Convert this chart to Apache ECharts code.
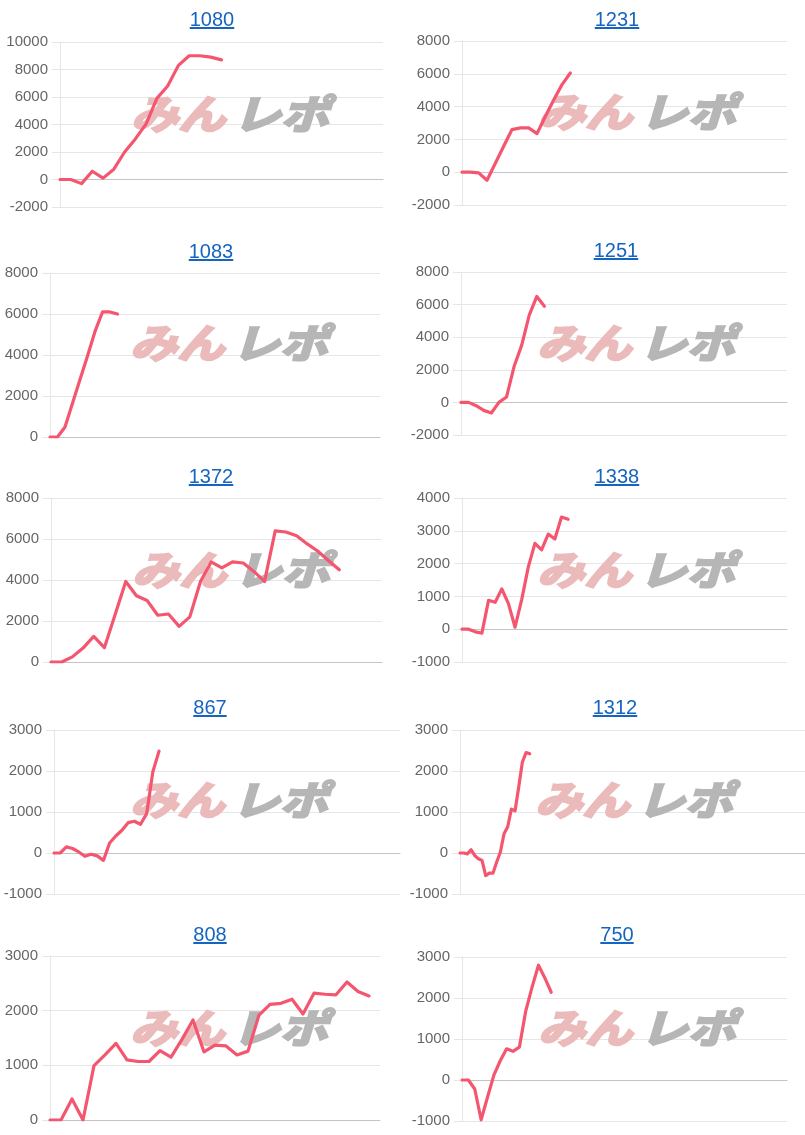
<!DOCTYPE html>
<html>
<head>
<meta charset="utf-8">
<script src="https://cdn.jsdelivr.net/npm/echarts/dist/echarts.min.js"></script>
<style>
  html, body { margin: 0; padding: 0; background: #fff; }
  #wrap { position: relative; width: 805px; height: 1135px; }
  #chart { position: absolute; left: 0; top: 0; width: 805px; height: 1135px; }
  .ttl { position: absolute; transform: translate(-50%, -50%); font-family: "Liberation Sans", Arial, sans-serif;
         font-size: 20px; color: #1565c0; text-decoration: underline; white-space: nowrap; line-height: 1; }
</style>
</head>
<body>
<div id="wrap"><div id="chart"></div></div>
<script>
// ---- data ----
const titles = ['1080', '1231', '1083', '1251', '1372', '1338', '867', '1312', '808', '750'];

const d1080 = [0, 0, -300, 600, 100, 750, 2000, 2950, 4050, 5900, 6800, 8300, 9000, 9000, 8900, 8700];
const d1231 = [0, 0, -40, -490, 550, 1580, 2600, 2700, 2700, 2350, 3400, 4400, 5340, 6050];
const d1083 = [0, 0, 490, 1650, 2800, 3950, 5150, 6100, 6100, 6000];
const d1251 = [0, 0, -200, -490, -650, 0, 330, 2200, 3500, 5350, 6500, 5900];
const d1372 = [0, 0, 250, 680, 1250, 700, 2300, 3930, 3230, 3000, 2280, 2340, 1740, 2200, 3930, 4880, 4590, 4880, 4830, 4420, 3930, 6400, 6340, 6160, 5760, 5400, 4940, 4500];
const d1338 = [0, 0, -80, -120, 880, 820, 1230, 780, 60, 900, 1900, 2620, 2420, 2900, 2750, 3420, 3350];
const d867  = [0, 0, 150, 110, 25, -80, -30, -70, -180, 245, 415, 555, 740, 775, 700, 960, 1980, 2485];
const d1312 = [0, 0, -20, 80, -60, -140, -180, -550, -490, -490, -220, 25, 470, 640, 1070, 1030, 1610, 2220, 2450, 2420];
const d808  = [0, 0, 385, 0, 995, 1190, 1400, 1100, 1070, 1070, 1270, 1150, 1475, 1830, 1245, 1370, 1355, 1190, 1260, 1920, 2115, 2135, 2210, 1940, 2320, 2300, 2290, 2525, 2350, 2270];
const d750  = [0, 0, -220, -970, -420, 120, 470, 760, 700, 800, 1680, 2270, 2800, 2490, 2140];

const seriesValues = [d1080, d1231, d1083, d1251, d1372, d1338, d867, d1312, d808, d750];
const slotCounts = [31, 40, 45, 44, 32, 50, 57, 95, 31, 52];

const yMins  = [-2000, -2000, 0, -2000, 0, -1000, -1000, -1000, 0, -1000];
const yMaxs  = [10000, 8000, 8000, 8000, 8000, 4000, 3000, 3000, 3000, 3000];
const ySteps = [2000, 2000, 2000, 2000, 2000, 1000, 1000, 1000, 1000, 1000];

const markLeft = 'みん';
const markRight = 'レポ';

// ---- layout ----
const gridBoxes = [
  { left: 60,  top: 42,  width: 323, height: 165 },
  { left: 462, top: 41,  width: 325, height: 164 },
  { left: 50,  top: 273, width: 330, height: 164 },
  { left: 461, top: 272, width: 326, height: 163 },
  { left: 51,  top: 498, width: 331, height: 164 },
  { left: 462, top: 498, width: 325, height: 164 },
  { left: 54,  top: 730, width: 346, height: 164 },
  { left: 460, top: 730, width: 345, height: 164 },
  { left: 50,  top: 956, width: 330, height: 164 },
  { left: 462, top: 957, width: 325, height: 164 }
];
const titlePos = [[212, 19], [617, 19], [211, 251], [616, 250], [211, 476], [617, 476], [210, 707], [615, 707], [210, 934], [617, 934]];
const markPos = [[131, 114], [538, 112], [130, 343], [537, 343], [132, 570], [537, 570], [130, 800], [535, 800], [130, 1028], [538, 1028]];

const wrap = document.getElementById('wrap');
titles.forEach((t, i) => {
  const a = document.createElement('a');
  a.className = 'ttl';
  a.href = '#';
  a.textContent = t;
  a.style.left = titlePos[i][0] + 'px';
  a.style.top = titlePos[i][1] + 'px';
  wrap.appendChild(a);
});

const chart = echarts.init(document.getElementById('chart'), null, { renderer: 'canvas' });

const grid = [], xAxis = [], yAxis = [], series = [], graphic = [];
seriesValues.forEach((vals, i) => {
  grid.push(Object.assign({ containLabel: false }, gridBoxes[i]));
  const cats = [];
  for (let k = 0; k < slotCounts[i]; k++) cats.push(String(k));
  xAxis.push({
    type: 'category', gridIndex: i, data: cats, boundaryGap: false,
    axisLine: { show: true, onZero: true, lineStyle: { color: '#c4c4c4', width: 1 } },
    axisTick: { show: false }, axisLabel: { show: false }, splitLine: { show: false }
  });
  yAxis.push({
    type: 'value', gridIndex: i, min: yMins[i], max: yMaxs[i], interval: ySteps[i],
    axisLine: { show: true, lineStyle: { color: '#e6e6e6' } },
    axisTick: { show: true, length: 8, lineStyle: { color: '#e6e6e6' } },
    splitLine: { show: true, lineStyle: { color: '#e6e6e6', width: 1 } },
    axisLabel: { color: '#666', fontSize: 15, margin: 12, fontFamily: 'Liberation Sans, Arial, sans-serif',
                 formatter: v => String(v) }
  });
  series.push({
    type: 'line', xAxisIndex: i, yAxisIndex: i, data: vals, showSymbol: false, symbol: 'none',
    lineStyle: { color: '#f5566f', width: 3.2, join: 'round', cap: 'round' }, z: 3, animation: false
  });
  const [mx, my] = markPos[i];
  graphic.push({
    type: 'text', x: mx, y: my, scaleX: 1.18, z: 1, silent: true,
    style: { text: markLeft, fill: '#ebbaba', stroke: '#ebbaba', lineWidth: 2.5,
             font: 'italic bold 40px "Noto Sans CJK JP"',
             verticalAlign: 'middle', align: 'left' }
  });
  graphic.push({
    type: 'text', x: mx + 102, y: my, scaleX: 1.2, z: 1, silent: true,
    style: { text: markRight, fill: '#b6b6b6', stroke: '#b6b6b6', lineWidth: 2.5,
             font: 'italic bold 40px "Noto Sans CJK JP"',
             verticalAlign: 'middle', align: 'left' }
  });
});

chart.setOption({ animation: false, backgroundColor: '#fff', grid, xAxis, yAxis, series, graphic });
</script>
</body>
</html>
